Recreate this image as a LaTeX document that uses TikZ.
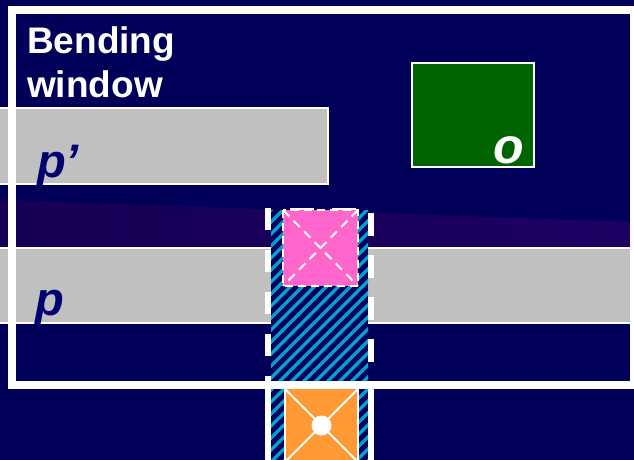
\documentclass[tikz,border=0pt]{standalone}
\usepackage{fontspec}
\setmainfont{Liberation Sans}
\definecolor{navybg}{RGB}{0,0,88}
\definecolor{bandL}{RGB}{22,0,84}
\definecolor{bandR}{RGB}{30,0,98}
\definecolor{graybar}{RGB}{192,192,192}
\definecolor{dgreen}{RGB}{0,100,0}
\definecolor{pinkc}{RGB}{255,102,204}
\definecolor{orangec}{RGB}{255,153,51}
\definecolor{cyanh}{RGB}{0,160,210}
\definecolor{ptext}{RGB}{0,0,110}
\tikzset{
  barbox/.style={fill=graybar, draw=white, line width=1.2pt},
  collineA/.style={white, line width=6pt, dash pattern=on 22pt off 20pt},
  collineB/.style={white, line width=6pt, dash pattern=on 23pt off 19pt},
  thindash/.style={white, line width=2pt, dash pattern=on 8pt off 5pt},
  titletext/.style={text=white, inner sep=0pt, anchor=base west, font=\fontsize{37}{44}\selectfont\bfseries},
  vartext/.style={inner sep=0pt, anchor=base west, font=\fontsize{47}{47}\selectfont\bfseries\itshape}
}
\begin{document}
\begin{tikzpicture}[x=1pt,y=-1pt]
\useasboundingbox (0,0) rectangle (634,460);
% background
\fill[navybg] (0,0) rectangle (634,460);
\shade[left color=bandL, right color=bandR] (0,200) -- (634,222) -- (634,250) -- (0,250) -- cycle;
% gray bars
\draw[barbox] (-5,108) rectangle (328,184);
\draw[barbox] (-5,248) rectangle (645,323);
% green box
\draw[fill=dgreen, draw=white, line width=2pt] (412,63) rectangle (534,167);
% hatched column
\fill[navybg] (271,210) rectangle (368,460);
\begin{scope}
  \clip (271,210) rectangle (368,460);
  \foreach \k in {0,...,32} \draw[cyanh, line width=3.5pt] ({11+\k*12},470) -- ++(300,-300);
\end{scope}
% dashed column walls
\draw[collineA] (268,208) -- (268,385);
\draw[collineB] (371,213) -- (371,385);
\draw[white, line width=4pt] (290,210) -- (314,210);
\draw[white, line width=4pt] (332,210) -- (356,210);
% pink cell
\fill[pinkc] (283,210) rectangle (358,286);
\draw[thindash] (283,210) rectangle (358,286);
\draw[thindash, dash pattern=on 9pt off 6pt] (283,210) -- (358,286);
\draw[thindash, dash pattern=on 9pt off 6pt] (358,210) -- (283,286);
% bending window frame
\draw[white, line width=8pt] (12,10) rectangle (634,385);
% lower column walls
\draw[white, line width=6pt] (268,389) -- (268,466);
\draw[white, line width=6pt] (371,389) -- (371,466);
% orange cell
\fill[orangec] (285,389) rectangle (358,462);
\draw[white, line width=2pt] (285,389) -- (285,466);
\draw[white, line width=2pt] (358,389) -- (358,466);
\draw[white, line width=2pt] (285,389) -- (358,462);
\draw[white, line width=2pt] (358,389) -- (285,462);
\fill[white] (321.5,425.5) circle (10);
% labels
\node[titletext] (bend) at (27,53) {Bending};
\node[titletext] (win) at (27,97) {window};
\node[vartext, text=ptext] (pprime) at (37,177) {p’};
\node[vartext, text=ptext] (p) at (35,315) {p};
\node[vartext, text=white, font=\fontsize{50}{50}\selectfont\bfseries\itshape] (o) at (493,163) {o};
\end{tikzpicture}
\end{document}
